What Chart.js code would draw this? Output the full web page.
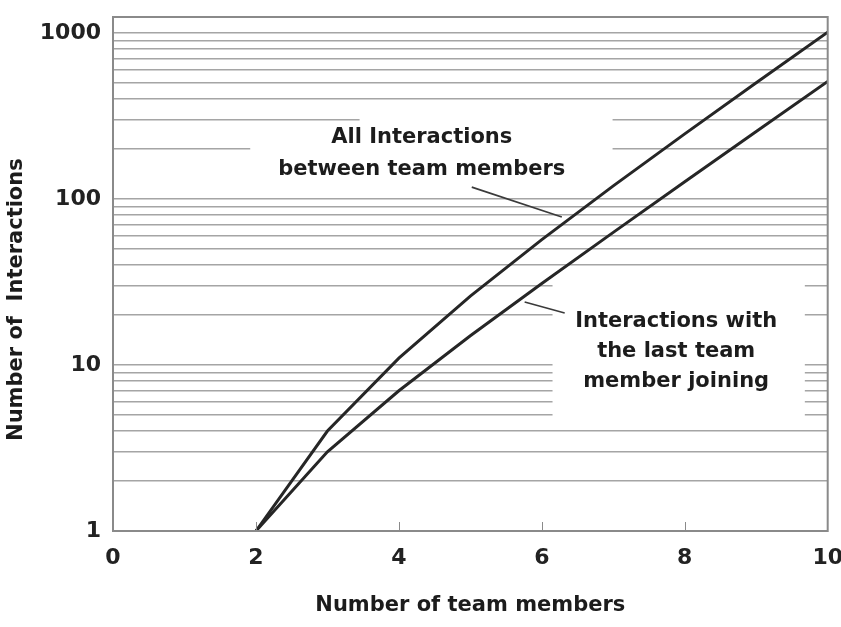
<!DOCTYPE html>
<html>
<head>
<meta charset="utf-8">
<script src="https://cdn.jsdelivr.net/npm/chart.js@4/dist/chart.umd.min.js"></script>
<style>
    body { margin: 0; background: #fff; overflow: hidden; }
    #chart-container { position: relative; width: 841px; height: 627px; }
</style>
</head>
<body>
<div id="chart-container"><canvas id="interactions-chart"></canvas></div>
<script>
// team size on the x axis
const teamSize = [2, 3, 4, 5, 6, 7, 8, 9, 10];
// values
const allInteractions = [1, 4, 11, 26, 57, 120, 247, 502, 1013];
const lastMemberInteractions = [1, 3, 7, 15, 31, 63, 127, 255, 511];

const xTicks = [0, 2, 4, 6, 8, 10];
const yMajorTicks = [1, 10, 100, 1000];
const yGridLines = [1, 2, 3, 4, 5, 6, 7, 8, 9,
                    10, 20, 30, 40, 50, 60, 70, 80, 90,
                    100, 200, 300, 400, 500, 600, 700, 800, 900, 1000];

const FONT = 'DejaVu Sans';
const INK = '#1c1c1c';
const GRID = 'rgba(105,105,105,0.6)';

// text labels with their white patches and leader lines (data coords)
const notes = [
    {
        lines: ['All Interactions', 'between team members'],
        x: 4.32, y: 187, lineGap: 32,
        patches: [[1.92, 243, 6.99, 113], [3.45, 344, 6.99, 243]],
        leader: [5.02, 118, 6.28, 78]
    },
    {
        lines: ['Interactions with', 'the last team', 'member joining'],
        x: 7.88, y: 12, lineGap: 30,
        patches: [[6.15, 36, 9.68, 4.7]],
        leader: [5.76, 24, 6.32, 20.6]
    }
];

const notesPlugin = {
    id: 'notes',
    beforeDatasetsDraw(chart) {
        const ctx = chart.ctx;
        const xs = chart.scales.x, ys = chart.scales.y;
        ctx.save();
        ctx.fillStyle = '#fff';
        for (const note of notes) {
            for (const p of note.patches) {
                const x1 = xs.getPixelForValue(p[0]), y1 = ys.getPixelForValue(p[1]);
                const x2 = xs.getPixelForValue(p[2]), y2 = ys.getPixelForValue(p[3]);
                ctx.fillRect(x1, y1, x2 - x1, y2 - y1);
            }
        }
        ctx.restore();
    },
    afterDraw(chart) {
        const ctx = chart.ctx;
        const xs = chart.scales.x, ys = chart.scales.y;
        const area = chart.chartArea;
        ctx.save();
        // frame round the plot
        ctx.strokeStyle = '#8a8a8a';
        ctx.lineWidth = 2;
        ctx.strokeRect(area.left, area.top, area.right - area.left, area.bottom - area.top);
        // small inward ticks on the x axis
        ctx.lineWidth = 1;
        for (const t of xTicks.slice(1, -1)) {
            const px = Math.round(xs.getPixelForValue(t)) + 0.5;
            ctx.beginPath();
            ctx.moveTo(px, area.bottom);
            ctx.lineTo(px, area.bottom - 9);
            ctx.stroke();
        }
        // texts and leaders
        ctx.fillStyle = INK;
        ctx.font = 'bold 21px "' + FONT + '"';
        ctx.textAlign = 'center';
        ctx.textBaseline = 'middle';
        for (const note of notes) {
            const cx = xs.getPixelForValue(note.x);
            const cy = ys.getPixelForValue(note.y);
            const top = cy - (note.lines.length - 1) * note.lineGap / 2;
            note.lines.forEach((txt, i) => ctx.fillText(txt, cx, top + i * note.lineGap));
            const l = note.leader;
            ctx.strokeStyle = '#3a3a3a';
            ctx.lineWidth = 1.6;
            ctx.beginPath();
            ctx.moveTo(xs.getPixelForValue(l[0]), ys.getPixelForValue(l[1]));
            ctx.lineTo(xs.getPixelForValue(l[2]), ys.getPixelForValue(l[3]));
            ctx.stroke();
        }
        ctx.restore();
    }
};

function toPoints(values) {
    return teamSize.map((n, i) => ({x: n, y: values[i]}));
}

var ctx = document.getElementById('interactions-chart').getContext('2d');
var chart = new Chart(ctx, {
    type: 'line',
    data: {
        datasets: [{
            label: 'All Interactions between team members',
            data: toPoints(allInteractions),
            borderColor: '#262626',
            borderWidth: 3,
            pointRadius: 0,
            tension: 0,
            fill: false
        }, {
            label: 'Interactions with the last team member joining',
            data: toPoints(lastMemberInteractions),
            borderColor: '#262626',
            borderWidth: 3,
            pointRadius: 0,
            tension: 0,
            fill: false
        }]
    },
    options: {
        responsive: true,
        maintainAspectRatio: false,
        animation: false,
        layout: { padding: { top: 17, right: 13, left: 0, bottom: 0 } },
        plugins: {
            legend: { display: false },
            tooltip: { enabled: false }
        },
        scales: {
            x: {
                type: 'linear',
                min: 0,
                max: 10,
                afterBuildTicks: (scale) => {
                    scale.ticks = xTicks.map(v => ({value: v}));
                },
                afterFit: (scale) => { scale.height = 96; },
                grid: { display: true, drawOnChartArea: false, drawTicks: true,
                        tickLength: 16, tickColor: 'rgba(0,0,0,0)' },
                border: { display: false },
                ticks: {
                    autoSkip: false,
                    maxRotation: 0,
                    padding: -2,
                    color: '#222',
                    font: { family: FONT, size: 22, weight: 'bold' }
                },
                title: {
                    display: true,
                    text: 'Number of team members',
                    color: INK,
                    padding: { top: 0, bottom: 9 },
                    font: { family: FONT, size: 21, weight: 'bold' }
                }
            },
            y: {
                type: 'logarithmic',
                min: 1,
                max: 1250,
                afterBuildTicks: (scale) => {
                    scale.ticks = yGridLines.map(v => ({value: v}));
                },
                afterFit: (scale) => { scale.width = 113; },
                grid: { color: GRID, lineWidth: 1.5, drawTicks: true,
                        tickLength: 14, tickColor: 'rgba(0,0,0,0)' },
                border: { display: false },
                ticks: {
                    autoSkip: false,
                    padding: -2,
                    color: '#222',
                    font: { family: FONT, size: 22, weight: 'bold' },
                    callback: (v) => yMajorTicks.includes(v) ? String(v) : ''
                },
                title: {
                    display: true,
                    text: 'Number of  Interactions\u00a0\u00a0\u00a0\u00a0\u00a0\u00a0\u00a0',
                    color: INK,
                    padding: { top: 4, bottom: 0 },
                    font: { family: FONT, size: 21, weight: 'bold' }
                }
            }
        }
    },
    plugins: [notesPlugin]
});
</script>
</body>
</html>
